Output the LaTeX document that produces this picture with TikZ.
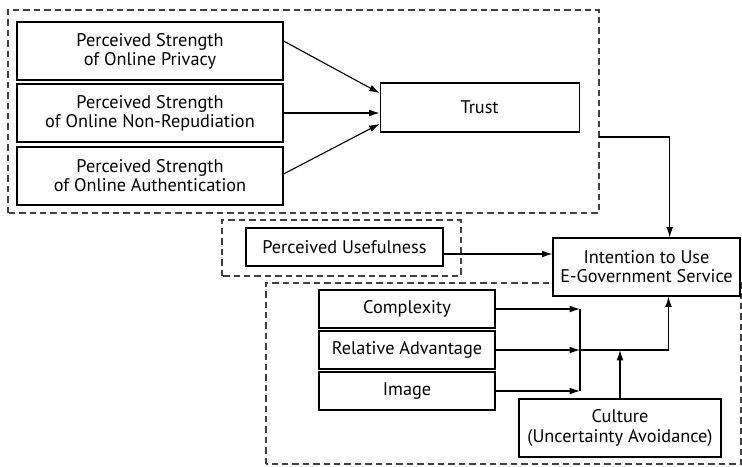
\documentclass[tikz,border=0pt]{standalone}
\usepackage{fontspec}
\setmainfont{PT Sans}
\usetikzlibrary{arrows.meta,calc}

\begin{document}
\begin{tikzpicture}[
		box/.style={draw, fill=white, line width=0.8pt, align=center, inner sep=0pt, font=\fontsize{13}{13.6}\selectfont},
		grp/.style={draw=black!75, line width=0.8pt, dash pattern=on 0.16cm off 0.1cm},
		arr/.style={line width=0.8pt, -{Latex[length=0.26cm,width=0.17cm]}}
	]
		%%%%% START %%%%%
		\useasboundingbox (0,0) rectangle (18.55,11.65);
		
		\draw[grp] (0.2, 6.325) rectangle (14.975, 11.4);
		\draw[grp] (5.55, 4.75) rectangle (11.525, 6.15);
		\draw[grp] (6.65, 0.05) rectangle (18.525, 4.575);
		\coordinate (gout) at (14.975, 8.225);
		
		\node[box, minimum width=6.65cm, minimum height=1.45cm] (priv) at (3.75, 10.375) {Perceived Strength\\of Online Privacy};
		\node[box, minimum width=6.65cm, minimum height=1.45cm] (nonrep) at (3.75, 8.825) {Perceived Strength\\of Online Non-Repudiation};
		\node[box, minimum width=6.65cm, minimum height=1.45cm] (auth) at (3.75, 7.25) {Perceived Strength\\of Online Authentication};
		\node[box, minimum width=4.975cm, minimum height=1.225cm] (trust) at (11.99, 8.9625) {Trust};
		
		\node[box, minimum width=4.925cm, minimum height=0.95cm] (useful) at (8.6125, 5.475) {Perceived Usefulness};
		\node[box, minimum width=4.675cm, minimum height=1.45cm] (intent) at (16.1625, 4.975) {Intention to Use\\E-Government Service};
		
		\node[box, minimum width=4.4cm, minimum height=0.95cm] (complex) at (10.175, 3.925) {Complexity};
		\node[box, minimum width=4.4cm, minimum height=0.95cm] (reladv) at (10.175, 2.9) {Relative Advantage};
		\node[box, minimum width=4.4cm, minimum height=0.95cm] (image) at (10.175, 1.875) {Image};
		\node[box, minimum width=5.05cm, minimum height=1.45cm] (culture) at (15.5, 0.95) {Culture\\(Uncertainty Avoidance)};
		
		\draw[arr] ([yshift=0.25cm]priv.east) -- ([yshift=0.36cm]trust.west);
		\draw[arr] (nonrep.east) -- (nonrep.east -| trust.west);
		\draw[arr] ([yshift=0.05cm]auth.east) -- ([yshift=-0.41cm]trust.west);
		\draw[arr] (gout) -| ($(intent.north)+(0.58,0)$);
		
		\coordinate (uout) at ([yshift=-0.175cm]useful.east);
		\draw[arr] (uout) -- (uout -| intent.west);
		
		\coordinate (jx) at (14.5, 0);
		\draw[arr] (complex.east) -- (complex.east -| jx);
		\draw[arr] (reladv.east) -- (reladv.east -| jx);
		\draw[arr] (image.east) -- (image.east -| jx);
		\draw[line width=0.8pt] (complex.east -| jx) -- (image.east -| jx);
		\draw[arr] (reladv.east -| jx) -| ($(intent.south)+(0.55,0)$);
		\draw[arr] (culture.north) -- (culture.north |- reladv.east);
		
		%%%%% END %%%%%
	\end{tikzpicture}
\end{document}
